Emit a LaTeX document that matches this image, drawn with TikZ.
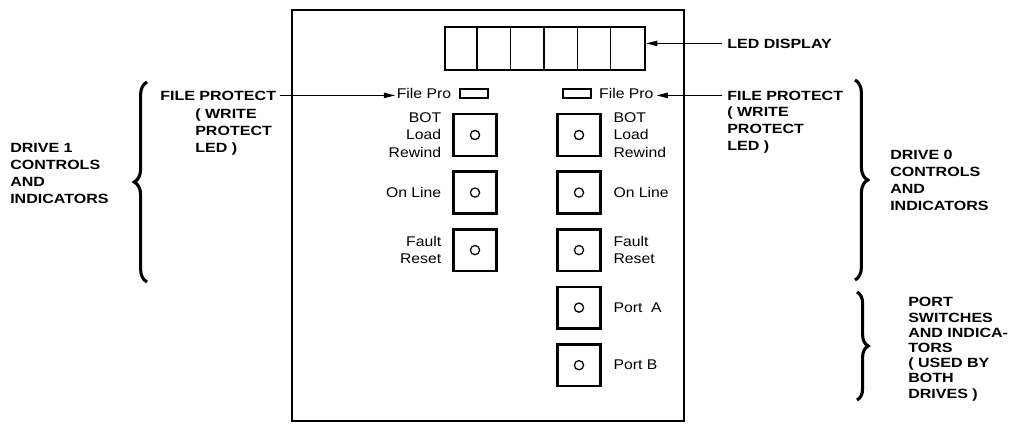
\documentclass[tikz,border=0pt]{standalone}
\usepackage{fontspec}
\setmainfont{Liberation Sans}
\newfontfamily\panelfont[FakeStretch=1.12]{Liberation Sans}
\newfontfamily\calloutfont[FakeStretch=1.2]{Liberation Sans}
\usetikzlibrary{positioning,arrows.meta,decorations.pathreplacing}

\begin{document}
\begin{tikzpicture}[x=0.025cm, y=-0.025cm, >={Triangle[length=8pt,width=3.8pt]},
    switchbox/.style={draw, line width=1.8pt, minimum width=1.07cm, minimum height=1.04cm, inner sep=0pt,
      path picture={\draw[line width=0.9pt] (path picture bounding box.center) circle (0.115cm);}},
    ledlamp/.style={draw, line width=1.5pt, minimum width=0.68cm, minimum height=0.22cm, inner sep=0pt},
    legend/.style={font=\panelfont\fontsize{10}{12.4}\selectfont, inner sep=0pt},
    callout/.style={font=\calloutfont\bfseries\fontsize{9.5}{11.9}\selectfont, inner sep=0pt, align=left},
    bracket/.style={decorate, decoration={brace, amplitude=0.32cm}, line width=2.2pt},
    pointer/.style={->, line width=0.8pt}]
    \useasboundingbox (0,0) rectangle (1014,423);

    % front panel
    \node[draw, line width=1.7pt, minimum width=9.8cm, minimum height=10.275cm, inner sep=0pt] (panel) at (488,215.5) {};

    % LED display
    \node[draw, line width=1.5pt, minimum width=5cm, minimum height=1.075cm, inner sep=0pt] (display) at (545,48.5) {};
    \foreach \i in {1,...,5}
        \draw[line width=1.1pt] ([xshift=\i*0.8333cm]display.north west) -- ([xshift=\i*0.8333cm]display.south west);

    % file protect lamps
    \node[ledlamp] (lampL) at (474,93.5) {};
    \node[ledlamp] (lampR) at (577,93.5) {};
    \node[legend, left=0.2cm of lampL] (fileproL) {File Pro};
    \node[legend, right=0.18cm of lampR] (fileproR) {File Pro};

    % drive 1 switches
    \node[switchbox] (botL) at (475,135) {};
    \node[switchbox, below=0.335cm of botL] (onlineL) {};
    \node[switchbox, below=0.335cm of onlineL] (faultL) {};
    \node[legend, align=right, left=0.27cm of botL] (botLtxt) {BOT\\Load\\Rewind};
    \node[legend, align=right, left=0.27cm of onlineL] (onlineLtxt) {On Line};
    \node[legend, align=right, left=0.27cm of faultL] (faultLtxt) {Fault\\Reset};

    % drive 0 and port switches
    \node[switchbox] (botR) at (579,135) {};
    \node[switchbox, below=0.335cm of botR] (onlineR) {};
    \node[switchbox, below=0.335cm of onlineR] (faultR) {};
    \node[switchbox, below=0.335cm of faultR] (portA) {};
    \node[switchbox, below=0.335cm of portA] (portB) {};
    \node[legend, align=left, right=0.29cm of botR] (botRtxt) {BOT\\Load\\Rewind};
    \node[legend, align=left, right=0.29cm of onlineR] (onlineRtxt) {On Line};
    \node[legend, align=left, right=0.29cm of faultR] (faultRtxt) {Fault\\Reset};
    \node[legend, right=0.29cm of portA] (portAtxt) {Port\ \ A};
    \node[legend, right=0.29cm of portB] (portBtxt) {Port B};

    % callouts (base = last line)
    \node[callout, anchor=base west] (ledtxt) at (727,48) {LED DISPLAY};
    \node[callout, anchor=base west] (fpL) at (160,100) {FILE PROTECT};
    \node[callout, anchor=base west] (fpLnote) at (195,152) {( WRITE\\PROTECT\\LED )};
    \node[callout, anchor=base west] (fpR) at (727,100) {FILE PROTECT};
    \node[callout, anchor=base west] (fpRnote) at (727,150) {( WRITE\\PROTECT\\LED )};
    \node[callout, anchor=base west] (drive1) at (10,203) {DRIVE 1\\CONTROLS\\AND\\INDICATORS};
    \node[callout, anchor=base west] (drive0) at (890,210) {DRIVE 0\\CONTROLS\\AND\\INDICATORS};
    \node[callout, anchor=base west, font=\calloutfont\bfseries\fontsize{9.5}{10.8}\selectfont] (porttxt) at (908,398)
        {PORT\\SWITCHES\\AND INDICA-\\TORS\\( USED BY\\BOTH\\DRIVES )};

    % pointers
    \draw[pointer] ([xshift=-0.12cm]ledtxt.west) -- (ledtxt.west -| display.east);
    \draw[pointer, shorten >=1pt] ([xshift=0.1cm]fpL.east) -- (fpL.east -| fileproL.west);
    \draw[pointer, shorten >=2pt] ([xshift=-0.12cm]fpR.west) -- (fpR.west -| fileproR.east);

    % braces
    \draw[bracket] (147,282) -- (147,82);
    \draw[bracket] (855,80) -- (855,280);
    \draw[bracket, decoration={amplitude=0.28cm}] (857,292) -- (857,400);
\end{tikzpicture}
\end{document}
